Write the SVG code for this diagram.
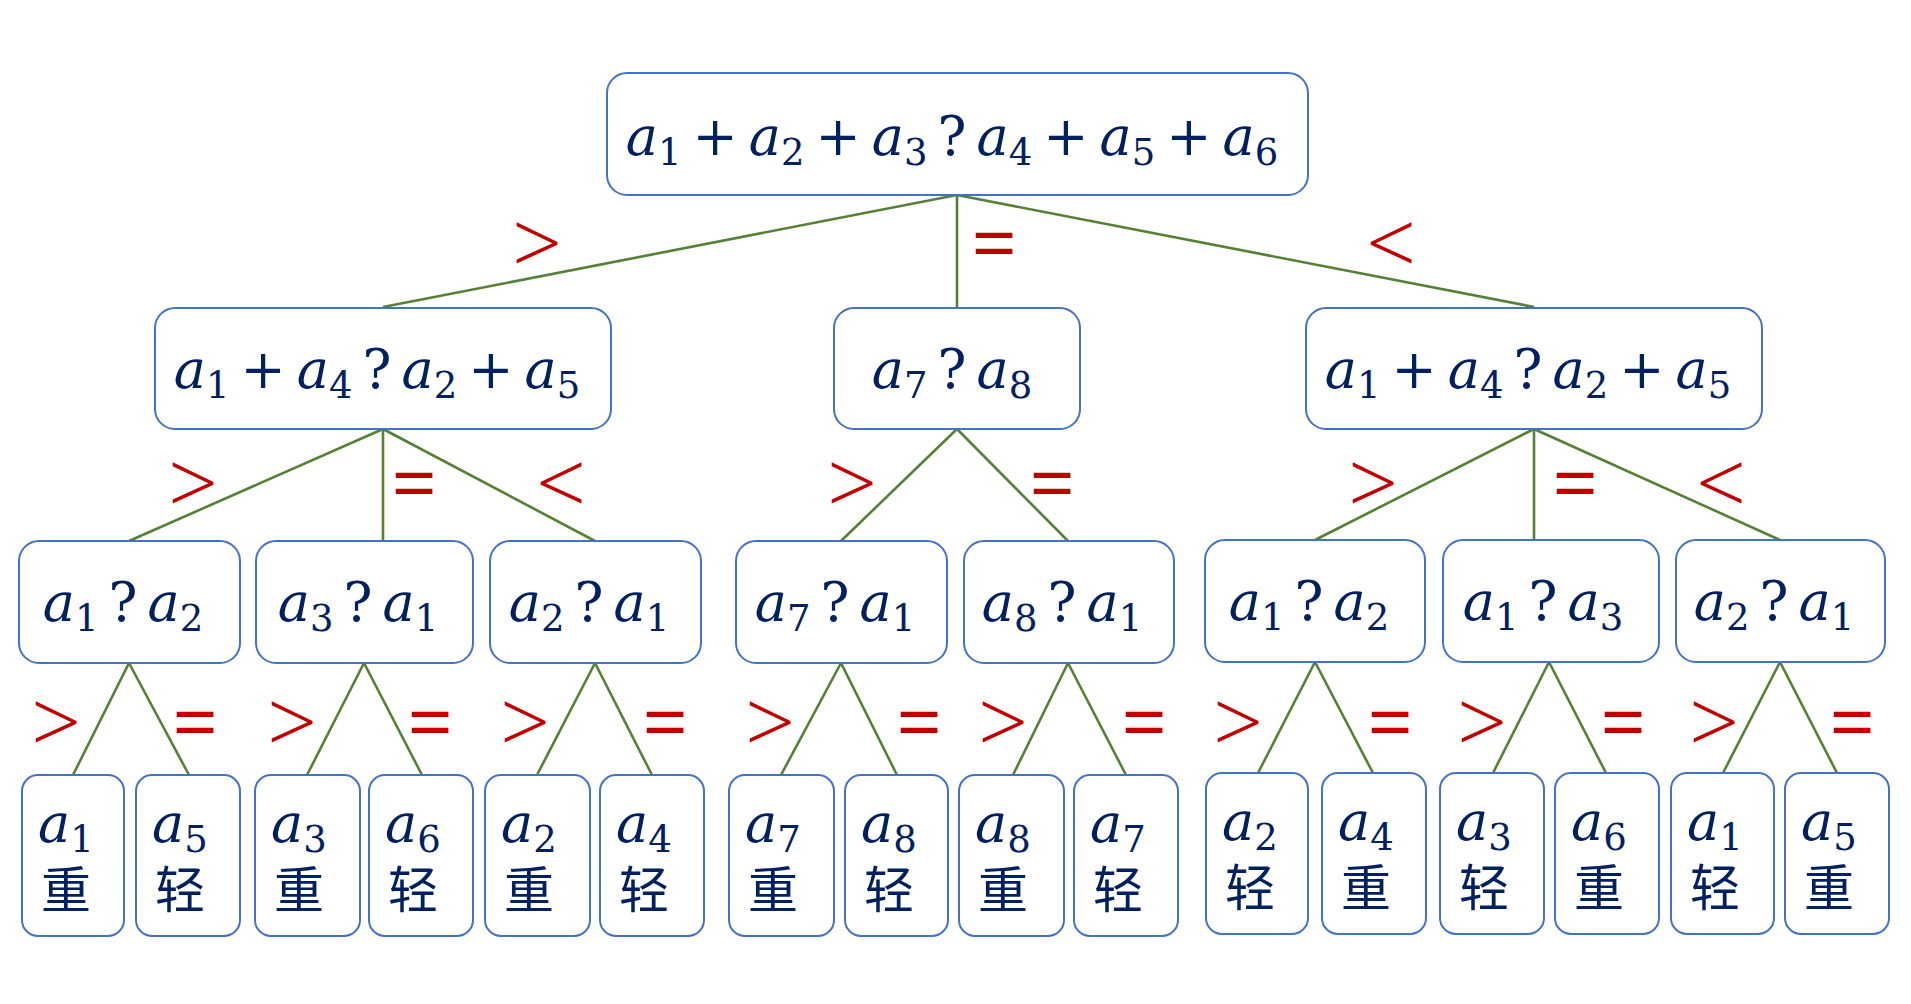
<svg xmlns="http://www.w3.org/2000/svg" width="1911" height="1004" viewBox="0 0 1911 1004">
<style>
.box{fill:#fff;stroke:#4472C4;stroke-width:2}
.t{font-family:"DejaVu Serif",serif;font-style:italic;font-size:54px;fill:#002060}
.m{text-anchor:middle}
.s{font-style:normal;font-size:37px}
.o{font-style:normal}
.c{font-family:"Noto Sans CJK SC",sans-serif;font-size:50px;fill:#002060}
.lab{font-family:"Open Sans","Liberation Sans",sans-serif;font-weight:300;font-size:88px;fill:#C00000;text-anchor:middle}
.eq{font-weight:400;font-size:80px}
.ln{stroke:#548235;stroke-width:2.6;fill:none}
</style>
<rect width="1911" height="1004" fill="#fff"/>
<g id="connectors" class="ln">
<line x1="957" y1="195" x2="383" y2="307"/>
<line x1="957" y1="195" x2="957" y2="307"/>
<line x1="957" y1="195" x2="1534" y2="307"/>
<line x1="383" y1="429" x2="129" y2="541"/>
<line x1="383" y1="429" x2="383" y2="541"/>
<line x1="383" y1="429" x2="595" y2="541"/>
<line x1="957" y1="429" x2="841" y2="541"/>
<line x1="957" y1="429" x2="1068" y2="541"/>
<line x1="1534" y1="429" x2="1315" y2="540"/>
<line x1="1534" y1="429" x2="1534" y2="540"/>
<line x1="1534" y1="429" x2="1780" y2="540"/>
<line x1="129" y1="663" x2="73" y2="775"/>
<line x1="129" y1="663" x2="189" y2="775"/>
<line x1="364" y1="663" x2="307" y2="775"/>
<line x1="364" y1="663" x2="422" y2="775"/>
<line x1="595" y1="663" x2="537" y2="775"/>
<line x1="595" y1="663" x2="652" y2="775"/>
<line x1="841" y1="663" x2="781" y2="775"/>
<line x1="841" y1="663" x2="897" y2="775"/>
<line x1="1068" y1="663" x2="1013" y2="775"/>
<line x1="1068" y1="663" x2="1126" y2="775"/>
<line x1="1315" y1="662" x2="1258" y2="773"/>
<line x1="1315" y1="662" x2="1373" y2="773"/>
<line x1="1549" y1="662" x2="1493" y2="773"/>
<line x1="1549" y1="662" x2="1606" y2="773"/>
<line x1="1780" y1="662" x2="1723" y2="773"/>
<line x1="1780" y1="662" x2="1837" y2="773"/>
</g>
<g id="labels" class="lab">
<text x="537" y="275">&gt;</text><text class="eq" x="994" y="272">=</text><text x="1391" y="275">&lt;</text>
<text x="193" y="515">&gt;</text><text class="eq" x="414" y="512">=</text><text x="561" y="515">&lt;</text>
<text x="852" y="515">&gt;</text><text class="eq" x="1052" y="512">=</text>
<text x="1373" y="515">&gt;</text><text class="eq" x="1575" y="512">=</text><text x="1721" y="515">&lt;</text>
<text x="56" y="754">&gt;</text><text class="eq" x="195" y="751">=</text>
<text x="292" y="754">&gt;</text><text class="eq" x="430" y="751">=</text>
<text x="525" y="754">&gt;</text><text class="eq" x="665" y="751">=</text>
<text x="770" y="754">&gt;</text><text class="eq" x="919" y="751">=</text>
<text x="1003" y="754">&gt;</text><text class="eq" x="1144" y="751">=</text>
<text x="1238" y="754">&gt;</text><text class="eq" x="1390" y="751">=</text>
<text x="1482" y="754">&gt;</text><text class="eq" x="1623" y="751">=</text>
<text x="1714" y="754">&gt;</text><text class="eq" x="1852" y="751">=</text>
</g>
<g id="root">
<rect class="box" x="607" y="73" width="701" height="122" rx="20"/>
<text class="t m" x="952" y="155">a<tspan class="s" dy="10">1</tspan><tspan class="o" dy="-10" dx="11">+</tspan><tspan dx="11">a</tspan><tspan class="s" dy="10">2</tspan><tspan class="o" dy="-10" dx="11">+</tspan><tspan dx="11">a</tspan><tspan class="s" dy="10">3</tspan><tspan class="o" dy="-10" dx="10">?</tspan><tspan dx="10">a</tspan><tspan class="s" dy="10">4</tspan><tspan class="o" dy="-10" dx="11">+</tspan><tspan dx="11">a</tspan><tspan class="s" dy="10">5</tspan><tspan class="o" dy="-10" dx="11">+</tspan><tspan dx="11">a</tspan><tspan class="s" dy="10">6</tspan></text>
</g>
<g id="n-l1-left">
<rect class="box" x="155" y="308" width="456" height="121" rx="20"/>
<text class="t m" x="377" y="388">a<tspan class="s" dy="10">1</tspan><tspan class="o" dy="-10" dx="11">+</tspan><tspan dx="11">a</tspan><tspan class="s" dy="10">4</tspan><tspan class="o" dy="-10" dx="10">?</tspan><tspan dx="10">a</tspan><tspan class="s" dy="10">2</tspan><tspan class="o" dy="-10" dx="11">+</tspan><tspan dx="11">a</tspan><tspan class="s" dy="10">5</tspan></text>
</g>
<g id="n-l1-mid">
<rect class="box" x="834" y="308" width="246" height="121" rx="20"/>
<text class="t m" x="952" y="388">a<tspan class="s" dy="10">7</tspan><tspan class="o" dy="-10" dx="10">?</tspan><tspan dx="10">a</tspan><tspan class="s" dy="10">8</tspan></text>
</g>
<g id="n-l1-right">
<rect class="box" x="1306" y="308" width="456" height="121" rx="20"/>
<text class="t m" x="1528" y="388">a<tspan class="s" dy="10">1</tspan><tspan class="o" dy="-10" dx="11">+</tspan><tspan dx="11">a</tspan><tspan class="s" dy="10">4</tspan><tspan class="o" dy="-10" dx="10">?</tspan><tspan dx="10">a</tspan><tspan class="s" dy="10">2</tspan><tspan class="o" dy="-10" dx="11">+</tspan><tspan dx="11">a</tspan><tspan class="s" dy="10">5</tspan></text>
</g>
<g id="n-l2-1"><rect class="box" x="19" y="541" width="221" height="122" rx="20"/>
<text class="t m" x="123" y="621">a<tspan class="s" dy="10">1</tspan><tspan class="o" dy="-10" dx="10">?</tspan><tspan dx="10">a</tspan><tspan class="s" dy="10">2</tspan></text></g>
<g id="n-l2-2"><rect class="box" x="256" y="541" width="217" height="122" rx="20"/>
<text class="t m" x="358" y="621">a<tspan class="s" dy="10">3</tspan><tspan class="o" dy="-10" dx="10">?</tspan><tspan dx="10">a</tspan><tspan class="s" dy="10">1</tspan></text></g>
<g id="n-l2-3"><rect class="box" x="490" y="541" width="211" height="122" rx="20"/>
<text class="t m" x="589" y="621">a<tspan class="s" dy="10">2</tspan><tspan class="o" dy="-10" dx="10">?</tspan><tspan dx="10">a</tspan><tspan class="s" dy="10">1</tspan></text></g>
<g id="n-l2-4"><rect class="box" x="736" y="541" width="211" height="122" rx="20"/>
<text class="t m" x="835" y="621">a<tspan class="s" dy="10">7</tspan><tspan class="o" dy="-10" dx="10">?</tspan><tspan dx="10">a</tspan><tspan class="s" dy="10">1</tspan></text></g>
<g id="n-l2-5"><rect class="box" x="964" y="541" width="210" height="122" rx="20"/>
<text class="t m" x="1062" y="621">a<tspan class="s" dy="10">8</tspan><tspan class="o" dy="-10" dx="10">?</tspan><tspan dx="10">a</tspan><tspan class="s" dy="10">1</tspan></text></g>
<g id="n-l2-6"><rect class="box" x="1205" y="540" width="220" height="122" rx="20"/>
<text class="t m" x="1309" y="620">a<tspan class="s" dy="10">1</tspan><tspan class="o" dy="-10" dx="10">?</tspan><tspan dx="10">a</tspan><tspan class="s" dy="10">2</tspan></text></g>
<g id="n-l2-7"><rect class="box" x="1443" y="540" width="216" height="122" rx="20"/>
<text class="t m" x="1543" y="620">a<tspan class="s" dy="10">1</tspan><tspan class="o" dy="-10" dx="10">?</tspan><tspan dx="10">a</tspan><tspan class="s" dy="10">3</tspan></text></g>
<g id="n-l2-8"><rect class="box" x="1676" y="540" width="209" height="122" rx="20"/>
<text class="t m" x="1774" y="620">a<tspan class="s" dy="10">2</tspan><tspan class="o" dy="-10" dx="10">?</tspan><tspan dx="10">a</tspan><tspan class="s" dy="10">1</tspan></text></g>
<g id="leaf-1"><rect class="box" x="22" y="775" width="102" height="161" rx="16"/><text class="t" x="38" y="842">a<tspan class="s" dy="10">1</tspan></text><text class="c" x="41" y="908">重</text></g>
<g id="leaf-2"><rect class="box" x="136" y="775" width="104" height="161" rx="16"/><text class="t" x="152" y="842">a<tspan class="s" dy="10">5</tspan></text><text class="c" x="155" y="908">轻</text></g>
<g id="leaf-3"><rect class="box" x="255" y="775" width="105" height="161" rx="16"/><text class="t" x="271" y="842">a<tspan class="s" dy="10">3</tspan></text><text class="c" x="274" y="908">重</text></g>
<g id="leaf-4"><rect class="box" x="369" y="775" width="104" height="161" rx="16"/><text class="t" x="385" y="842">a<tspan class="s" dy="10">6</tspan></text><text class="c" x="388" y="908">轻</text></g>
<g id="leaf-5"><rect class="box" x="485" y="775" width="105" height="161" rx="16"/><text class="t" x="501" y="842">a<tspan class="s" dy="10">2</tspan></text><text class="c" x="504" y="908">重</text></g>
<g id="leaf-6"><rect class="box" x="600" y="775" width="104" height="161" rx="16"/><text class="t" x="616" y="842">a<tspan class="s" dy="10">4</tspan></text><text class="c" x="619" y="908">轻</text></g>
<g id="leaf-7"><rect class="box" x="729" y="775" width="105" height="161" rx="16"/><text class="t" x="745" y="842">a<tspan class="s" dy="10">7</tspan></text><text class="c" x="748" y="908">重</text></g>
<g id="leaf-8"><rect class="box" x="845" y="775" width="103" height="161" rx="16"/><text class="t" x="861" y="842">a<tspan class="s" dy="10">8</tspan></text><text class="c" x="864" y="908">轻</text></g>
<g id="leaf-9"><rect class="box" x="959" y="775" width="105" height="161" rx="16"/><text class="t" x="975" y="842">a<tspan class="s" dy="10">8</tspan></text><text class="c" x="978" y="908">重</text></g>
<g id="leaf-10"><rect class="box" x="1074" y="775" width="104" height="161" rx="16"/><text class="t" x="1090" y="842">a<tspan class="s" dy="10">7</tspan></text><text class="c" x="1093" y="908">轻</text></g>
<g id="leaf-11"><rect class="box" x="1206" y="773" width="102" height="161" rx="16"/><text class="t" x="1222" y="840">a<tspan class="s" dy="10">2</tspan></text><text class="c" x="1225" y="906">轻</text></g>
<g id="leaf-12"><rect class="box" x="1322" y="773" width="104" height="161" rx="16"/><text class="t" x="1338" y="840">a<tspan class="s" dy="10">4</tspan></text><text class="c" x="1341" y="906">重</text></g>
<g id="leaf-13"><rect class="box" x="1440" y="773" width="104" height="161" rx="16"/><text class="t" x="1456" y="840">a<tspan class="s" dy="10">3</tspan></text><text class="c" x="1459" y="906">轻</text></g>
<g id="leaf-14"><rect class="box" x="1555" y="773" width="104" height="161" rx="16"/><text class="t" x="1571" y="840">a<tspan class="s" dy="10">6</tspan></text><text class="c" x="1574" y="906">重</text></g>
<g id="leaf-15"><rect class="box" x="1671" y="773" width="103" height="161" rx="16"/><text class="t" x="1687" y="840">a<tspan class="s" dy="10">1</tspan></text><text class="c" x="1690" y="906">轻</text></g>
<g id="leaf-16"><rect class="box" x="1785" y="773" width="104" height="161" rx="16"/><text class="t" x="1801" y="840">a<tspan class="s" dy="10">5</tspan></text><text class="c" x="1804" y="906">重</text></g>
</svg>
